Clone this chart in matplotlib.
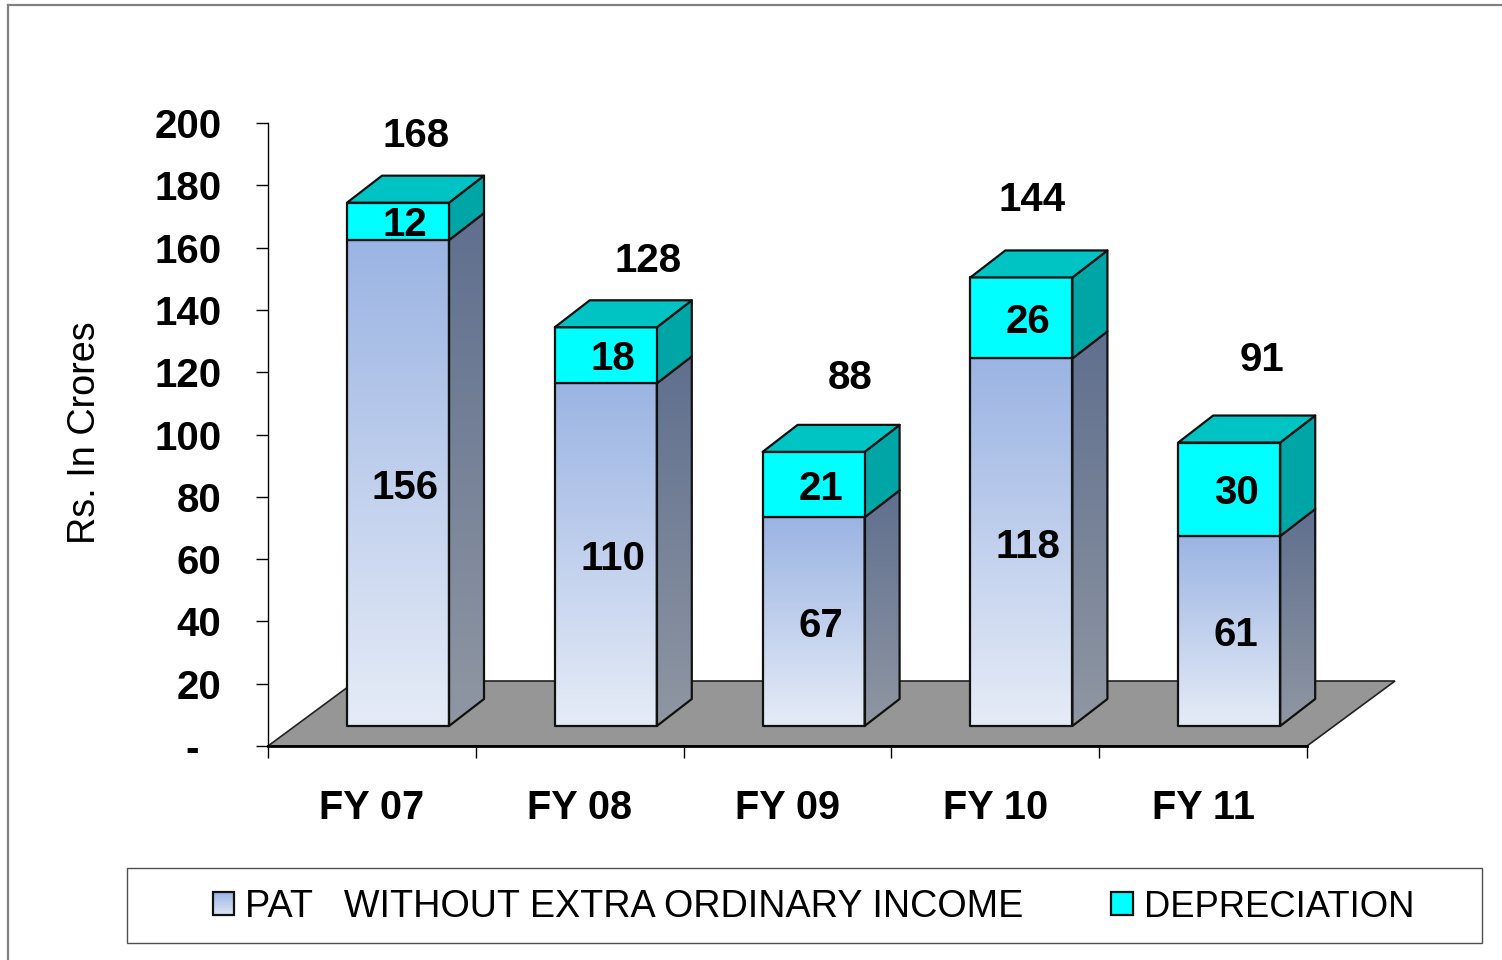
import numpy as np
import matplotlib
matplotlib.use('Agg')
import matplotlib.pyplot as plt
from matplotlib.colors import LinearSegmentedColormap
from matplotlib.legend_handler import HandlerBase
from matplotlib.lines import Line2D
from matplotlib.patches import Polygon, Rectangle

# values
categories = ['FY 07', 'FY 08', 'FY 09', 'FY 10', 'FY 11']
pat = [156, 110, 67, 118, 61]
depreciation = [12, 18, 21, 26, 30]
totals = [168, 128, 88, 144, 91]
y_ticks = [0, 20, 40, 60, 80, 100, 120, 140, 160, 180, 200]
y_tick_labels = ['-  ', '20', '40', '60', '80', '100', '120', '140', '160', '180', '200']
series_names = ['PAT   WITHOUT EXTRA ORDINARY INCOME', 'DEPRECIATION']

# pixel layout of the original
W, H = 1502, 960
AX_L, AX_R, AX_TOP, AX_BOT = 268, 1307, 123, 746
PX_X = (AX_R - AX_L) / 5
PX_Y = (AX_BOT - AX_TOP) / 200
X_MAX = 5.1  # axes run a little past the last tick so the last bar side is not cut

# fake 3d sizes, in data units
floor_dx, floor_dy = 88 / PX_X, 65 / PX_Y
bar_dx, bar_dy = 35 / PX_X, 27 / PX_Y
bar_left = 79 / PX_X
bar_width = 102 / PX_X
bar_base = 20 / PX_Y

# nudges for the total labels, relative to the bar's top back edge (pixels)
total_nudge_x = [18, 42, 37, 11, 33]
total_nudge_y = [40, 39, 47, 50, 56]

plt.rcParams['font.family'] = ['Liberation Sans', 'DejaVu Sans']

fig = plt.figure(figsize=(W / 100, H / 100), dpi=100)
ax = fig.add_axes([AX_L / W, 1 - AX_BOT / H, X_MAX * PX_X / W, (AX_BOT - AX_TOP) / H])
ax.set_xlim(0, X_MAX)
ax.set_ylim(0, 200)
ax.set_autoscale_on(False)


def gradient_face(points, top_color, bottom_color, zorder):
    # vertical gradient clipped to a polygon, with a dark outline on top
    poly = Polygon(points, closed=True, facecolor='none', edgecolor='#111111',
                   linewidth=1.6, joinstyle='round', zorder=zorder + 0.5, clip_on=False)
    ax.add_patch(poly)
    xs = [p[0] for p in points]
    ys = [p[1] for p in points]
    cmap = LinearSegmentedColormap.from_list('g', [top_color, bottom_color])
    im = ax.imshow(np.linspace(0, 1, 256).reshape(-1, 1), cmap=cmap, aspect='auto',
                   extent=[min(xs), max(xs), min(ys), max(ys)], origin='upper', zorder=zorder)
    im.set_clip_path(poly)


def flat_face(points, color, zorder):
    ax.add_patch(Polygon(points, closed=True, facecolor=color, edgecolor='#111111',
                         linewidth=1.6, joinstyle='round', zorder=zorder, clip_on=False))


# floor
ax.add_patch(Polygon([(0, 0), (5, 0), (5 + floor_dx, floor_dy), (floor_dx, floor_dy)], closed=True,
                     facecolor='#969696', edgecolor='#222222', linewidth=1.2, zorder=1, clip_on=False))

for i in range(len(categories)):
    x0 = i + bar_left
    x1 = x0 + bar_width
    y0 = bar_base
    y1 = y0 + pat[i]
    y2 = y1 + depreciation[i]
    z = 2 + i

    gradient_face([(x1, y0), (x1 + bar_dx, y0 + bar_dy), (x1 + bar_dx, y1 + bar_dy), (x1, y1)],
                  '#5F6F8E', '#9097A3', z)
    gradient_face([(x0, y0), (x1, y0), (x1, y1), (x0, y1)], '#9BB4E3', '#E6ECF7', z + 0.1)
    flat_face([(x1, y1), (x1 + bar_dx, y1 + bar_dy), (x1 + bar_dx, y2 + bar_dy), (x1, y2)], '#00A6A6', z + 0.6)
    flat_face([(x0, y1), (x1, y1), (x1, y2), (x0, y2)], '#00FFFF', z + 0.6)
    flat_face([(x0, y2), (x1, y2), (x1 + bar_dx, y2 + bar_dy), (x0 + bar_dx, y2 + bar_dy)], '#00C4C4', z + 0.6)

    cx = x0 + bar_width / 2 + 7 / PX_X
    ax.text(cx, y0 + pat[i] / 2 - 4.5 / PX_Y, str(pat[i]), ha='center', va='center',
            fontsize=29, fontweight='bold', zorder=20)
    ax.text(cx, y1 + depreciation[i] / 2 - 4 / PX_Y, str(depreciation[i]), ha='center', va='center',
            fontsize=29, fontweight='bold', zorder=20)
    ax.text(x0 + bar_width / 2 + total_nudge_x[i] / PX_X,
            y2 + bar_dy + total_nudge_y[i] / PX_Y, str(totals[i]), ha='center', va='center',
            fontsize=29, fontweight='bold', zorder=20)

# axes
for side in ['top', 'right']:
    ax.spines[side].set_visible(False)
ax.spines['left'].set_linewidth(1.0)
ax.spines['bottom'].set_linewidth(2.0)
ax.spines['bottom'].set_bounds(0, 5)
ax.spines['bottom'].set_zorder(15)
ax.set_yticks(y_ticks)
ax.set_yticklabels(y_tick_labels, fontsize=29, fontweight='bold')
ax.set_xticks(range(6))
ax.set_xticklabels([])
ax.set_xticks([i + 0.5 for i in range(5)], minor=True)
ax.set_xticklabels(categories, minor=True, fontsize=28.5, fontweight='bold')
ax.tick_params(axis='y', length=8.6, width=1.0, pad=25)
ax.tick_params(axis='x', which='major', length=8.6, width=1.0)
ax.tick_params(axis='x', which='minor', length=0, pad=31)
ax.set_ylabel('Rs. In Crores', fontsize=27.2)
ax.yaxis.set_label_coords((103 - AX_L) / (X_MAX * PX_X), 0.5036)

# outer frame, only left and top show in the original
fig.add_artist(Line2D([8 / W, 8 / W], [0, 1 - 5 / H], color='#808080', linewidth=1.6))
fig.add_artist(Line2D([8 / W, 1], [1 - 5 / H, 1 - 5 / H], color='#808080', linewidth=1.6))


# legend with a gradient swatch
class GradientHandler(HandlerBase):
    def create_artists(self, legend, orig_handle, xdescent, ydescent, width, height, fontsize, trans):
        arts = []
        colors = orig_handle.get_gid().split(',')
        cmap = LinearSegmentedColormap.from_list('s', colors)
        for k in range(12):
            arts.append(Rectangle((-xdescent, -ydescent + height * (11 - k) / 12), width, height / 12 + 0.3,
                                  facecolor=cmap(k / 11), edgecolor='none', transform=trans))
        arts.append(Rectangle((-xdescent, -ydescent), width, height, facecolor='none',
                              edgecolor='#111111', linewidth=1.6, transform=trans))
        return arts


fig.add_artist(Rectangle((127 / W, 1 - 943 / H), (1482 - 127) / W, 75 / H, transform=fig.transFigure,
                         facecolor='white', edgecolor='#505050', linewidth=1.0))
h1 = Rectangle((0, 0), 1, 1, gid='#9BB4E3,#DCE4F5')
h2 = Rectangle((0, 0), 1, 1, gid='#00FFFF,#00FFFF')
leg = fig.legend([h1, h2], series_names, handler_map={Rectangle: GradientHandler()}, ncol=2, frameon=False,
                 loc='center left', bbox_to_anchor=(213 / W, 1 - 907 / H), borderaxespad=0, borderpad=0,
                 fontsize=27.15, handlelength=0.57, handleheight=0.58, handletextpad=0.29, columnspacing=2.32)
leg.get_texts()[1].set_fontsize(26.2)

fig.savefig('out.png', dpi=100)
